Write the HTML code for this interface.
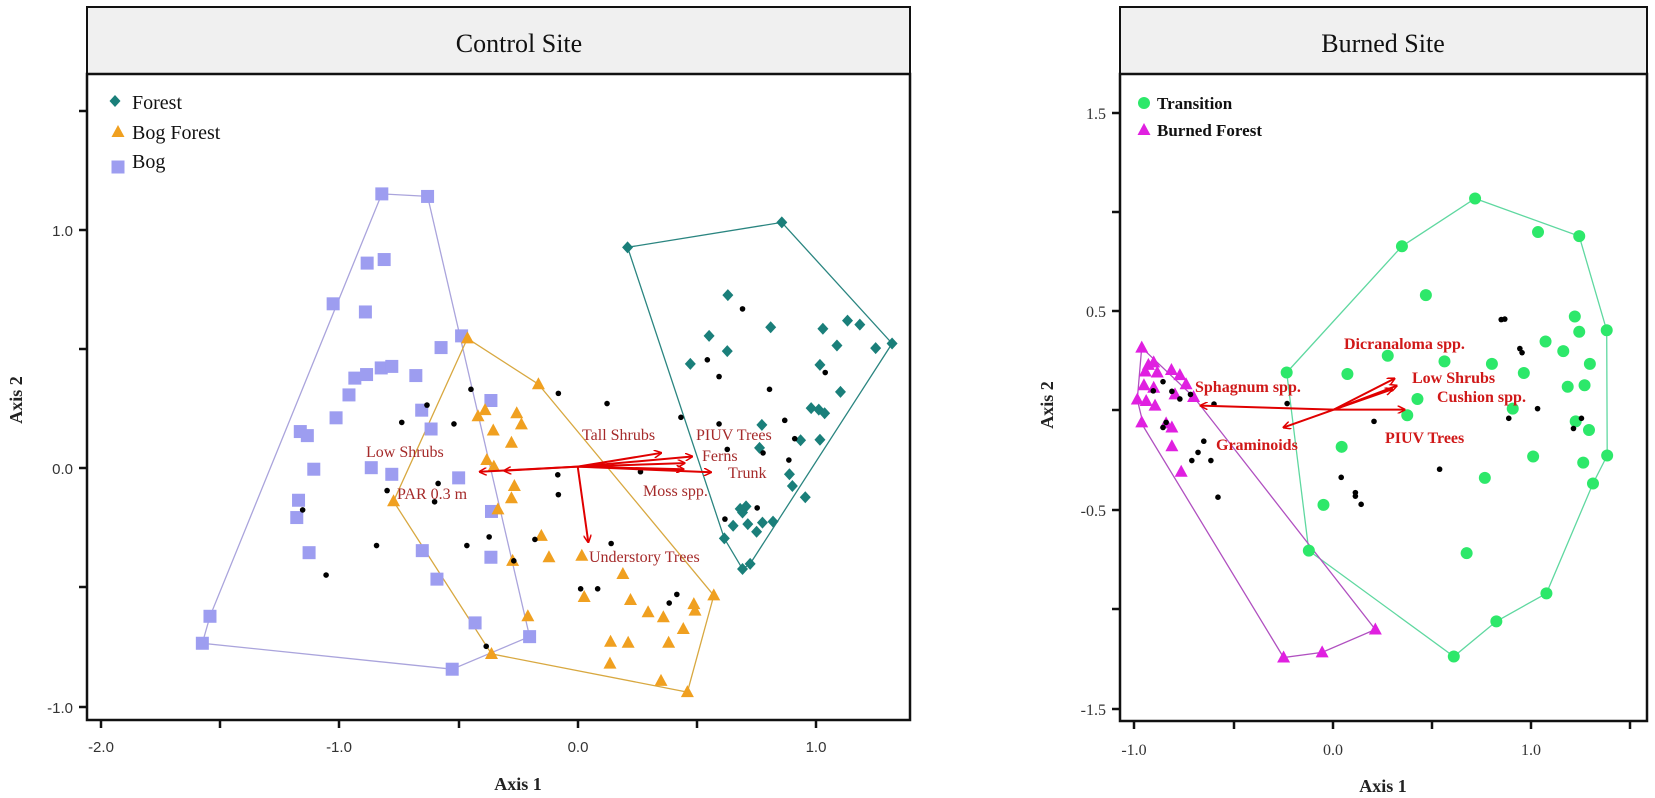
<!DOCTYPE html>
<html><head><meta charset="utf-8"><style>
body{margin:0;background:#fff;width:1655px;height:798px;overflow:hidden}
svg{display:block}
.tk{font-family:"Liberation Sans",sans-serif;font-size:15px;fill:#333}
.tks{font-family:"Liberation Serif",serif;font-size:16px;fill:#333}
.ax{font-family:"Liberation Serif",serif;font-size:18px;font-weight:bold;fill:#222}
.ttl{font-family:"Liberation Serif",serif;font-size:26px;fill:#111}
.lg{font-family:"Liberation Serif",serif;font-size:20px;fill:#111}
.lgb{font-family:"Liberation Serif",serif;font-size:17px;font-weight:bold;fill:#111}
.al{font-family:"Liberation Serif",serif;font-size:16px;fill:#a52a2a}
.ar{font-family:"Liberation Serif",serif;font-size:16px;font-weight:bold;fill:#d01818}
</style></head><body>
<svg id="s" width="1655" height="798" xmlns="http://www.w3.org/2000/svg">
<defs><marker id="ah" markerWidth="8" markerHeight="8" refX="7" refY="4" orient="auto" markerUnits="userSpaceOnUse"><path d="M0,0 L8,4 L0,8" fill="none" stroke="#e00000" stroke-width="1.5"/></marker></defs>
<!-- left panel -->
<rect x="87" y="7" width="823" height="67" fill="#f0f0f0" stroke="#111" stroke-width="2"/>
<rect x="87" y="74" width="823" height="646" fill="#fff" stroke="#111" stroke-width="2.5"/>
<text class="ttl" x="519" y="52" text-anchor="middle">Control Site</text>
<g stroke="#111" stroke-width="2.5">
<line x1="101" y1="720" x2="101" y2="728"/><line x1="220" y1="720" x2="220" y2="728"/><line x1="339" y1="720" x2="339" y2="728"/><line x1="459" y1="720" x2="459" y2="728"/><line x1="578" y1="720" x2="578" y2="728"/><line x1="697" y1="720" x2="697" y2="728"/><line x1="816" y1="720" x2="816" y2="728"/>
<line x1="79" y1="111" x2="87" y2="111"/><line x1="79" y1="230" x2="87" y2="230"/><line x1="79" y1="349" x2="87" y2="349"/><line x1="79" y1="468" x2="87" y2="468"/><line x1="79" y1="587" x2="87" y2="587"/><line x1="79" y1="707" x2="87" y2="707"/>
</g>
<text class="tk" x="101" y="752" text-anchor="middle">-2.0</text>
<text class="tk" x="339" y="752" text-anchor="middle">-1.0</text>
<text class="tk" x="578" y="752" text-anchor="middle">0.0</text>
<text class="tk" x="816" y="752" text-anchor="middle">1.0</text>
<text class="tk" x="73" y="236" text-anchor="end">1.0</text>
<text class="tk" x="73" y="474" text-anchor="end">0.0</text>
<text class="tk" x="73" y="713" text-anchor="end">-1.0</text>
<text class="ax" x="518" y="790" text-anchor="middle">Axis 1</text>
<text class="ax" transform="translate(22,400) rotate(-90)" text-anchor="middle">Axis 2</text>
<text class="lg" x="132" y="109">Forest</text>
<text class="lg" x="132" y="139">Bog Forest</text>
<text class="lg" x="132" y="168">Bog</text>
<!-- right panel -->
<rect x="1120" y="7" width="527" height="67" fill="#f0f0f0" stroke="#111" stroke-width="2"/>
<rect x="1120" y="74" width="527" height="647" fill="#fff" stroke="#111" stroke-width="2.5"/>
<text class="ttl" x="1383" y="52" text-anchor="middle">Burned Site</text>
<g stroke="#111" stroke-width="2.5">
<line x1="1134" y1="721" x2="1134" y2="729"/><line x1="1234" y1="721" x2="1234" y2="729"/><line x1="1333" y1="721" x2="1333" y2="729"/><line x1="1432" y1="721" x2="1432" y2="729"/><line x1="1531" y1="721" x2="1531" y2="729"/><line x1="1630" y1="721" x2="1630" y2="729"/>
<line x1="1112" y1="113" x2="1120" y2="113"/><line x1="1112" y1="212" x2="1120" y2="212"/><line x1="1112" y1="311" x2="1120" y2="311"/><line x1="1112" y1="410" x2="1120" y2="410"/><line x1="1112" y1="510" x2="1120" y2="510"/><line x1="1112" y1="609" x2="1120" y2="609"/><line x1="1112" y1="709" x2="1120" y2="709"/>
</g>
<text class="tks" x="1134" y="755" text-anchor="middle">-1.0</text>
<text class="tks" x="1333" y="755" text-anchor="middle">0.0</text>
<text class="tks" x="1531" y="755" text-anchor="middle">1.0</text>
<text class="tks" x="1106" y="119" text-anchor="end">1.5</text>
<text class="tks" x="1106" y="317" text-anchor="end">0.5</text>
<text class="tks" x="1106" y="516" text-anchor="end">-0.5</text>
<text class="tks" x="1106" y="715" text-anchor="end">-1.5</text>
<text class="ax" x="1383" y="792" text-anchor="middle">Axis 1</text>
<text class="ax" transform="translate(1053,405) rotate(-90)" text-anchor="middle">Axis 2</text>
<text class="lgb" x="1157" y="109">Transition</text>
<text class="lgb" x="1157" y="136">Burned Forest</text>
<g id="g"></g>
<!-- arrow labels -->
<text class="al" x="582" y="440">Tall Shrubs</text>
<text class="al" x="696" y="440">PIUV Trees</text>
<text class="al" x="366" y="457">Low Shrubs</text>
<text class="al" x="702" y="461">Ferns</text>
<text class="al" x="728" y="478">Trunk</text>
<text class="al" x="643" y="496">Moss spp.</text>
<text class="al" x="397" y="499">PAR 0.3 m</text>
<text class="al" x="589" y="562">Understory Trees</text>
<text class="ar" x="1344" y="349">Dicranaloma spp.</text>
<text class="ar" x="1412" y="383">Low Shrubs</text>
<text class="ar" x="1195" y="392">Sphagnum spp.</text>
<text class="ar" x="1437" y="402">Cushion spp.</text>
<text class="ar" x="1216" y="450">Graminoids</text>
<text class="ar" x="1385" y="443">PIUV Trees</text>
</svg>
<script>
var NS="http://www.w3.org/2000/svg",G=document.getElementById('g');
function L(p){return [p[0]/1.705,p[1]/1.965]}
function R(p){return [p[0]/2.256+960,p[1]/1.965]}
function el(t,a){var e=document.createElementNS(NS,t);for(var k in a)e.setAttribute(k,a[k]);G.appendChild(e);return e}
function hull(pts,f,c){el('polygon',{points:pts.map(f).map(function(q){return q[0].toFixed(1)+','+q[1].toFixed(1)}).join(' '),fill:'none',stroke:c,'stroke-width':1.3})}
function mk(type,q,c){var x=q[0],y=q[1];
 if(type=='d')el('path',{d:'M'+x+','+(y-6)+'L'+(x+5.5)+','+y+'L'+x+','+(y+6)+'L'+(x-5.5)+','+y+'Z',fill:c});
 else if(type=='t')el('path',{d:'M'+x+','+(y-7)+'L'+(x+6.5)+','+(y+5)+'L'+(x-6.5)+','+(y+5)+'Z',fill:c});
 else if(type=='s')el('rect',{x:x-6.5,y:y-6.5,width:13,height:13,fill:c});
 else if(type=='c')el('circle',{cx:x,cy:y,r:6,fill:c});
 else el('circle',{cx:x,cy:y,r:2.8,fill:'#000'});}
function pts(arr,f,t,c){arr.forEach(function(p){mk(t,f(p),c)})}
function arrow(o,e,f){var a=f(o),b=f(e);el('line',{x1:a[0],y1:a[1],x2:b[0],y2:b[1],stroke:'#e00000','stroke-width':2,'marker-end':'url(#ah)'})}
// left
hull([[345,1264],[358,1211],[651,381],[729,386],[903,1251],[771,1315]],L,'#aaa4dc');
hull([[797,665],[918,755],[1217,1170],[1172,1360],[838,1285],[671,985]],L,'#d8a840');
hull([[1070,486],[1333,437],[1521,675],[1279,1108],[1266,1118],[1235,1058]],L,'#2a8580');
pts([[651,381],[729,386],[626,517],[655,510],[568,597],[623,613],[787,660],[752,683],[709,738],[605,743],[625,736],[650,723],[668,720],[595,776],[837,787],[719,806],[573,821],[512,848],[524,856],[735,843],[535,922],[633,919],[668,932],[782,939],[509,983],[506,1017],[838,1005],[527,1086],[720,1082],[837,1095],[745,1138],[810,1224],[903,1251],[771,1315],[358,1211],[345,1264]],L,'s','#9d9df0');
pts([[797,665],[918,755],[815,818],[827,806],[881,812],[889,834],[841,846],[872,870],[830,904],[842,917],[877,955],[872,979],[849,1001],[671,985],[923,1053],[874,1102],[936,1095],[992,1092],[1062,1128],[996,1173],[1075,1179],[1183,1187],[1185,1200],[1217,1170],[1105,1203],[1131,1213],[1165,1236],[1041,1261],[1071,1263],[1140,1263],[900,1211],[1040,1304],[1127,1338],[1172,1360],[838,1285]],L,'t','#f0a020');
pts([[1070,486],[1333,437],[1521,675],[1241,580],[1209,660],[1240,690],[1177,715],[1314,643],[1403,646],[1445,630],[1466,638],[1427,679],[1493,684],[1398,717],[1433,770],[1383,802],[1396,805],[1406,812],[1299,835],[1398,864],[1365,865],[1295,880],[1346,932],[1351,955],[1373,977],[1272,995],[1266,1007],[1262,1000],[1250,1033],[1275,1030],[1290,1045],[1300,1027],[1318,1025],[1235,1058],[1266,1118],[1279,1108]],L,'d','#1a7f7a');
pts([[1266,607],[1206,707],[1226,740],[1312,765],[1407,732],[1161,820],[1226,833],[1338,826],[1355,862],[1240,883],[1301,890],[1345,904],[1236,1020],[1291,998],[952,773],[1035,793],[803,765],[728,796],[685,830],[774,833],[747,950],[660,964],[741,986],[516,1002],[951,933],[952,972],[1092,927],[642,1072],[556,1130],[796,1072],[834,1055],[912,1060],[876,1102],[1042,1068],[990,1157],[1019,1157],[1154,1168],[1141,1185],[829,1270]],L,'k');
var o=[985,917];
[[818,927],[860,925],[1003,1065],[1127,890],[1180,897],[1167,910],[1212,928],[1165,922]].forEach(function(e){arrow(o,e,L)});
mk('d',[115,101],'#1a7f7a');mk('t',[118,132],'#f0a020');mk('s',[118,167],'#9d9df0');
// right
hull([[737,732],[997,484],[1162,390],[1397,464],[1459,649],[1460,895],[1428,950],[1323,1166],[1210,1221],[1114,1290],[787,1082]],R,'#5fd8a0');
hull([[410,683],[527,780],[937,1237],[817,1282],[730,1292],[415,840],[400,785]],R,'#b050c0');
pts([[1162,390],[1304,456],[1397,464],[997,484],[1051,580],[1387,622],[1397,652],[1459,649],[1321,671],[1361,690],[965,699],[1093,710],[1200,715],[1421,715],[737,732],[874,735],[1272,733],[1371,760],[1409,757],[1032,784],[1247,803],[1009,816],[1389,828],[1419,845],[861,878],[1293,897],[1406,909],[1460,895],[1184,939],[1428,950],[820,992],[1143,1087],[787,1082],[1323,1166],[1210,1221],[1114,1290]],R,'c','#2de86a');
pts([[410,683],[425,717],[437,712],[418,730],[445,732],[477,727],[496,737],[510,755],[415,757],[437,762],[400,785],[420,788],[440,797],[485,775],[527,780],[410,830],[478,840],[478,877],[499,927],[465,832],[730,1292],[817,1282],[937,1237]],R,'t','#e020e0');
pts([[458,750],[436,768],[478,769],[496,784],[520,775],[573,794],[738,793],[465,830],[458,840],[550,867],[537,889],[523,905],[566,905],[582,977],[934,828],[860,938],[892,968],[892,975],[905,991],[1082,922],[1221,628],[1229,627],[1263,685],[1268,693],[1303,803],[1238,822],[1384,842],[1402,822]],R,'k');
var o2=[843,805];
[[543,797],[1003,805],[980,744],[985,758],[975,765],[730,840]].forEach(function(e){arrow(o2,e,R)});
mk('c',[1144,103],'#2de86a');mk('t',[1144,130],'#e020e0');
</script>
</body></html>
